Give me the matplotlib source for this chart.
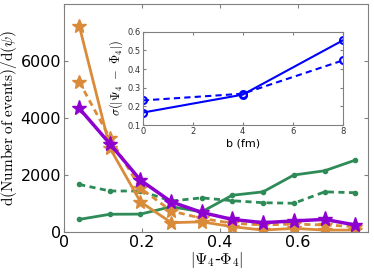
import matplotlib
matplotlib.use('Agg')
from matplotlib import pyplot as plt

plt.rcParams['mathtext.fontset'] = 'cm'

# bin centres of |Psi4 - Phi4|
psi = [0.039, 0.118, 0.196, 0.275, 0.353, 0.431, 0.510, 0.589, 0.668, 0.746]

orange_solid = [7250, 2950, 1070, 340, 370, 200, 80, 140, 80, 80]
orange_dash = [5280, 3300, 1550, 750, 490, 320, 260, 290, 260, 200]
purple = [4350, 3100, 1830, 1070, 700, 455, 340, 400, 455, 260]
green_solid = [455, 635, 640, 900, 720, 1300, 1420, 2010, 2160, 2530]
green_dash = [1680, 1450, 1450, 1100, 1210, 1110, 1040, 1020, 1420, 1390]

# inset: width vs impact parameter
b = [0, 4, 8]
sigma_solid = [0.167, 0.263, 0.553]
sigma_dash = [0.232, 0.268, 0.446]

ORANGE = '#D98B3A'
PURPLE = '#8E00D0'
GREEN = '#2E8B57'
DASH = (0, (2.2, 1.6))

fig = plt.figure(figsize=(3.74, 2.75), dpi=100)
ax = fig.add_axes([0.171, 0.155, 0.814, 0.83])

ax.plot(psi, green_solid, color=GREEN, lw=2, marker='.', ms=6)
ax.plot(psi, green_dash, color=GREEN, lw=2, ls=DASH, marker='.', ms=6)
ax.plot(psi, orange_solid, color=ORANGE, lw=2, marker='*', ms=10)
ax.plot(psi, orange_dash, color=ORANGE, lw=2, ls=DASH, marker='*', ms=10)
ax.plot(psi, purple, color=PURPLE, lw=2.5, marker='*', ms=11)

ax.set_xlim(0, 0.78)
ax.set_ylim(0, 8000)
ax.set_xticks([0, 0.2, 0.4, 0.6])
ax.set_xticklabels(['0', '0.2', '0.4', '0.6'])
ax.set_yticks([0, 2000, 4000, 6000])
ax.tick_params(direction='in', top=True, right=True, labelsize=11.5, length=3,
               color='gray', pad=2)
for s in ax.spines.values():
    s.set_color('gray')
ax.set_ylabel(r'$\mathrm{d(Number\ of\ events)/d}(\psi)$', fontsize=11, labelpad=1)
ax.set_xlabel(r'$|\Psi_4$-$\Phi_4|$', fontsize=11.5, labelpad=0)

ins = fig.add_axes([0.3815, 0.545, 0.535, 0.34])
ins.plot(b, sigma_solid, color='blue', lw=1.5, marker='o', ms=5, mfc='none', mew=1.5)
ins.plot(b, sigma_dash, color='blue', lw=1.5, ls=(0, (3, 2)), marker='o', ms=5,
         mfc='none', mew=1.5)
ins.set_xlim(0, 8)
ins.set_ylim(0.1, 0.6)
ins.set_xticks([0, 2, 4, 6, 8])
ins.set_yticks([0.1, 0.2, 0.3, 0.4, 0.5, 0.6])
ins.tick_params(direction='in', top=True, right=True, labelsize=6, length=2,
                color='gray', labelcolor='#333333', pad=1.5)
for s in ins.spines.values():
    s.set_color('gray')
ins.set_xlabel('b (fm)', fontsize=8, labelpad=2)
ins.set_ylabel(r'$\sigma(|\Psi_4\ -\ \Phi_4|)$', fontsize=9, labelpad=2)

fig.savefig('out.png', dpi=100)
